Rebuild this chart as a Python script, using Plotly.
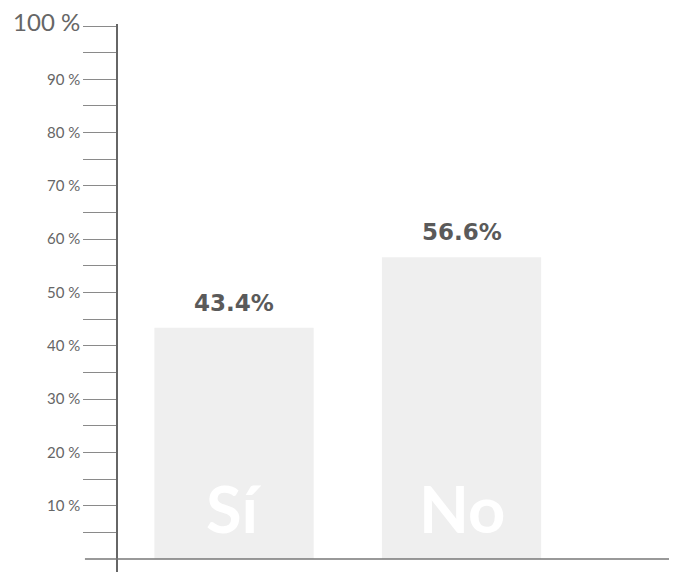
import plotly.graph_objects as go

categories = ["Sí", "No"]
values = [43.4, 56.6]
value_labels = ["43.4%", "56.6%"]
tick_values = [10, 20, 30, 40, 50, 60, 70, 80, 90, 100]
tick_labels = ["10 %", "20 %", "30 %", "40 %", "50 %", "60 %", "70 %", "80 %", "90 %",
               '<span style="font-size:24px">100 %</span>']
minor_ticks = [5, 15, 25, 35, 45, 55, 65, 75, 85, 95]

FONT = "Lato"

fig = go.Figure()
fig.add_trace(go.Bar(
    x=categories, y=values, width=0.7,
    marker=dict(color="#efefef", line=dict(width=0)),
    hoverinfo="skip", showlegend=False,
))

for c, v, lab in zip(categories, values, value_labels):
    fig.add_annotation(x=c, y=v, text=f"<b>{lab}</b>", showarrow=False,
                       yanchor="bottom", yshift=10,
                       font=dict(family="DejaVu Sans", size=23, color="#5a5a5a"))
    fig.add_annotation(x=c, y=0, text=f"<b>{c}</b>", showarrow=False,
                       yanchor="bottom", yshift=10,
                       font=dict(family=FONT, size=65, color="#ffffff"))

# baseline
fig.add_shape(type="line", xref="paper", yref="y", x0=-0.06, x1=1, y0=0, y1=0,
              line=dict(color="#777777", width=1.5))

fig.update_layout(
    width=661, height=564,
    margin=dict(l=110, r=0, t=16, b=0),
    plot_bgcolor="white", paper_bgcolor="white",
    xaxis=dict(range=[-0.51, 1.912], showticklabels=False, showgrid=False,
               zeroline=False, showline=False, ticks=""),
    yaxis=dict(range=[-2.44, 100.38], tickvals=tick_values, ticktext=tick_labels,
               ticks="outside", ticklen=33, tickcolor="#8a8a8a", tickwidth=1,
               ticklabeloverflow="allow",
               minor=dict(tickvals=minor_ticks,
                          ticks="outside", ticklen=33, tickcolor="#8a8a8a", tickwidth=1),
               showline=True, linecolor="#666666", linewidth=1.5,
               showgrid=False, zeroline=False, automargin=False,
               tickfont=dict(family=FONT, size=15, color="#666666")),
    font=dict(family=FONT),
)

fig.write_html("out.html")
